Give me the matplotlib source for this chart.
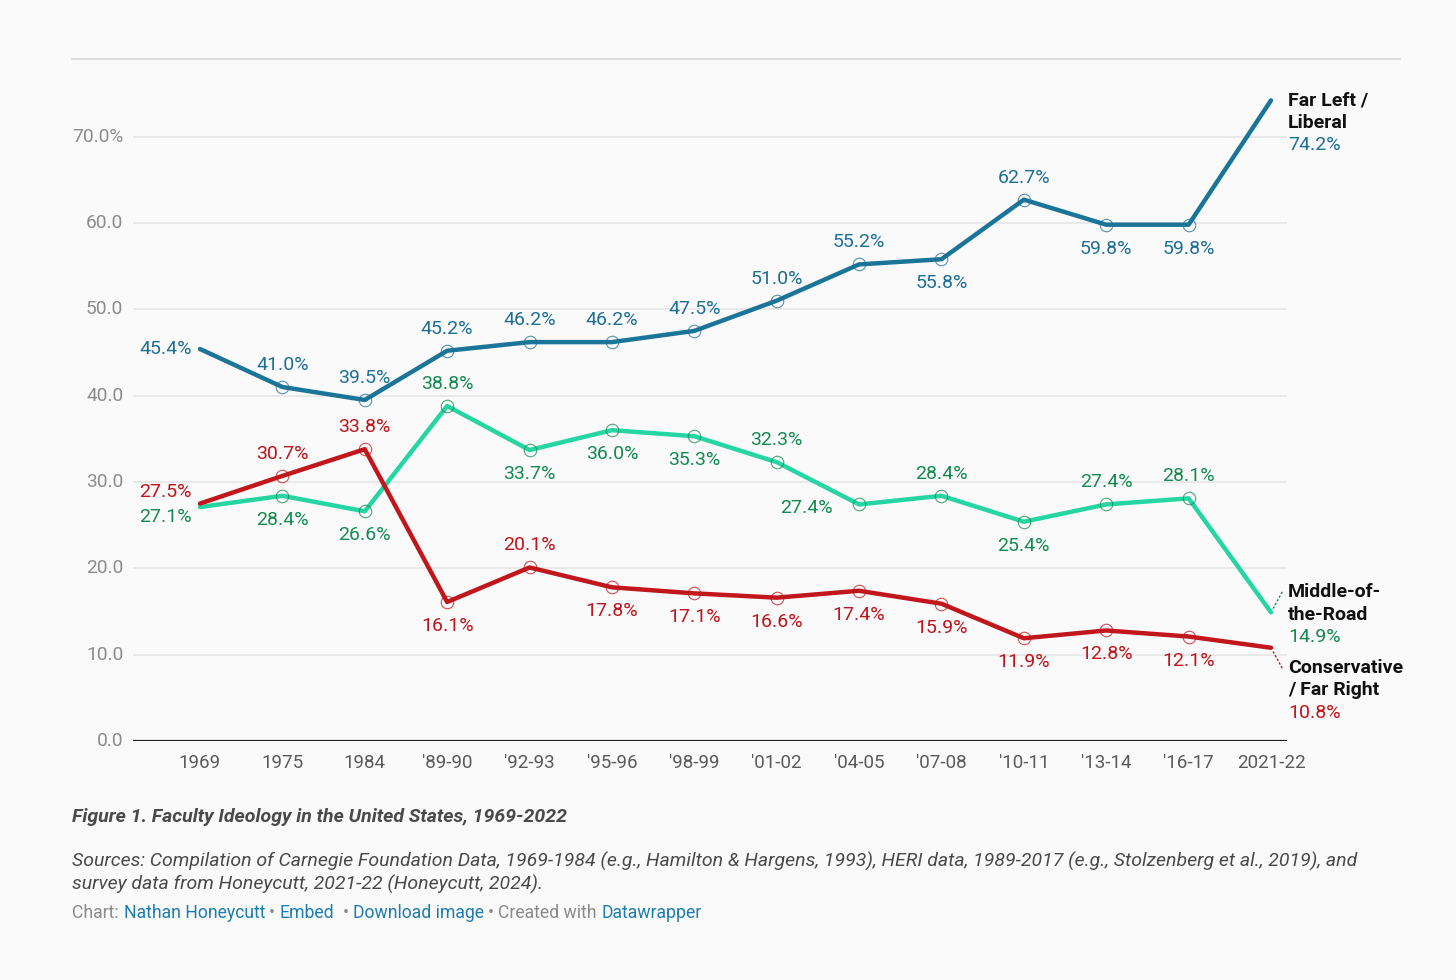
import numpy as np
import matplotlib.pyplot as plt
from matplotlib.lines import Line2D

plt.rcParams['font.family'] = ['Roboto', 'DejaVu Sans']

# data
periods = ['1969', '1975', '1984', "'89-90", "'92-93", "'95-96", "'98-99",
           "'01-02", "'04-05", "'07-08", "'10-11", "'13-14", "'16-17", '2021-22']
liberal = [45.4, 41.0, 39.5, 45.2, 46.2, 46.2, 47.5, 51.0, 55.2, 55.8, 62.7, 59.8, 59.8, 74.2]
middle = [27.1, 28.4, 26.6, 38.8, 33.7, 36.0, 35.3, 32.3, 27.4, 28.4, 25.4, 27.4, 28.1, 14.9]
conservative = [27.5, 30.7, 33.8, 16.1, 20.1, 17.8, 17.1, 16.6, 17.4, 15.9, 11.9, 12.8, 12.1, 10.8]
yticks = [0, 10, 20, 30, 40, 50, 60, 70]
ytick_labels = ['0.0', '10.0', '20.0', '30.0', '40.0', '50.0', '60.0', '70.0%']

# label placement per point (a=above, b=below, l=left, lu/ld=left up/down, lw=left wide)
lib_pos = ['l', 'a', 'a', 'a', 'a', 'a', 'a', 'a', 'a', 'b', 'a', 'b', 'b', None]
mid_pos = ['ld', 'b', 'b', 'a', 'b', 'b', 'b', 'a', 'lw', 'a', 'b', 'a', 'a', None]
con_pos = ['lu', 'a', 'a', 'b', 'a', 'b', 'b', 'b', 'b', 'b', 'b', 'b', 'b', None]
offsets = {'a': (0, 22, 'center'), 'b': (0, -24, 'center'), 'l': (-8, 0, 'right'),
           'lu': (-8, 12, 'right'), 'ld': (-8, -10, 'right'), 'lw': (-26, -4, 'right')}

BG = '#fafafa'
fig = plt.figure(figsize=(14.56, 9.8), dpi=100, facecolor=BG)
ax = fig.add_axes([133/1456, 1-741/980, (1287-133)/1456, (741-90)/980])
ax.set_facecolor(BG)
x = np.arange(len(periods))
ax.set_xlim(-67/82.4, 13 + 16/82.4)
ax.set_ylim(0, 75.4)

for s in ax.spines.values():
    s.set_visible(False)
ax.set_yticks(yticks)
ax.set_yticklabels(ytick_labels)
ax.set_xticks(x)
ax.set_xticklabels(periods)
ax.tick_params(axis='y', length=0, pad=7, labelsize=13.8, labelcolor='#8c8c8c')
ax.tick_params(axis='x', length=0, pad=9, labelsize=13.5, labelcolor='#5a5a5a')
for t in ax.get_yticklabels():
    t.set_verticalalignment('center')
for v in yticks[1:]:
    ax.axhline(v, color='#e4e4e4', lw=1.1, zorder=0)
ax.axhline(0, color='#222222', lw=1.6, zorder=1)

series = [
    (liberal, '#1b7598', '#1e6f94', lib_pos),
    (middle, '#25d6a3', '#148a52', mid_pos),
    (conservative, '#c1161b', '#c0141b', con_pos),
]
for vals, lc, tc, pos in series:
    ax.plot(x, vals, color=lc, lw=3.2, solid_joinstyle='round', solid_capstyle='round', zorder=3)
    ax.plot(x[1:-1], vals[1:-1], 'o', ms=9, mfc='none', mec=tc, mew=0.8, alpha=0.75, zorder=4)
    for i, v in enumerate(vals):
        if pos[i] is None:
            continue
        dx, dy, ha = offsets[pos[i]]
        ax.annotate(f'{v:.1f}%', (x[i], v), xytext=(dx, dy), textcoords='offset pixels',
                    ha=ha, va='center', fontsize=14, color=tc, zorder=5)

# end labels
ends = [
    (liberal, '#1e6f94', ['Far Left /', 'Liberal'], 0, None),
    (middle, '#148a52', ['Middle-of-', 'the-Road'], 20, (11, 20)),
    (conservative, '#c0141b', ['Conservative', '/ Far Right'], -20, (11, -20)),
]
for vals, tc, names, top, lead in ends:
    xe, ye = x[-1], vals[-1]
    for k, nm in enumerate(names):
        ax.annotate(nm, (xe, ye), xytext=(17, top - 22.5 * k), textcoords='offset pixels',
                    ha='left', va='center', fontsize=14, fontweight='bold',
                    color='#111111', annotation_clip=False)
    ax.annotate(f'{ye:.1f}%', (xe, ye), xytext=(17, top - 45), textcoords='offset pixels',
                ha='left', va='center', fontsize=14, color=tc, annotation_clip=False)
    if lead:
        ax.annotate('', (xe, ye), xytext=lead, textcoords='offset pixels',
                    arrowprops=dict(arrowstyle='-', linestyle=(0, (1, 2)), color=tc, lw=1,
                                    shrinkA=0, shrinkB=2), annotation_clip=False)

# top rule
fig.add_artist(Line2D([72/1456, 1400/1456], [1-59/980, 1-59/980], color='#d8d8d8', lw=1.2))

# title and notes
fig.text(72/1456, 1-817/980, 'Figure 1. Faculty Ideology in the United States, 1969-2022',
         fontsize=14, fontweight='bold', fontstyle='italic', color='#4a4a4a', va='center')
fig.text(72/1456, 1-861/980,
         'Sources: Compilation of Carnegie Foundation Data, 1969-1984 (e.g., Hamilton & Hargens, 1993), '
         'HERI data, 1989-2017 (e.g., Stolzenberg et al., 2019), and',
         fontsize=14, fontstyle='italic', color='#4a4a4a', va='center')
fig.text(72/1456, 1-884/980, 'survey data from Honeycutt, 2021-22 (Honeycutt, 2024).',
         fontsize=14, fontstyle='italic', color='#4a4a4a', va='center')

# footer, pieces chained one after another
gray, blue = '#8a8a8a', '#1d7cb0'
footer = [('Chart:', gray), ('Nathan Honeycutt', blue), ('•', gray), ('Embed', blue),
          ('•', gray), ('Download image', blue), ('•', gray), ('Created with', gray),
          ('Datawrapper', blue)]
gaps = [0, 5, 4, 4, 9, 4, 4, 4, 5]
prev = fig.text(72/1456, 1-913/980, footer[0][0], fontsize=12.7, color=footer[0][1], va='center')
for (txt, col), g in zip(footer[1:], gaps[1:]):
    prev = fig.add_artist(plt.Annotation(txt, xy=(1, 0), xycoords=prev, xytext=(g, 0),
                                         textcoords='offset pixels', ha='left', va='bottom',
                                         fontsize=12.7, color=col, annotation_clip=False))

fig.savefig('out.png', dpi=100, facecolor=BG)
